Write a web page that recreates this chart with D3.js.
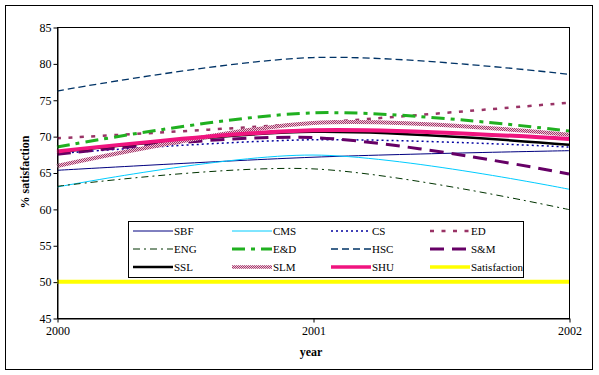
<!DOCTYPE html>
<html>
<head>
<meta charset="utf-8">
<script src="https://cdn.jsdelivr.net/npm/d3@7"></script>
<style>
  body { margin: 0; background: #fff; }
</style>
</head>
<body>
<div id="chart"></div>
<script>
var width = 599;
var height = 375;
var FONT = "'Liberation Serif', 'Times New Roman', serif";

// data
var years = [2000, 2001, 2002];
var names = ["SBF", "CMS", "CS", "ED", "ENG", "E&D", "HSC", "S&M", "SSL", "SLM", "SHU", "Satisfaction"];
var SBF = [65.3, 67.1, 68.0];
var CMS = [63.0, 67.4, 62.7];
var CS = [67.6, 69.5, 68.5];
var ED = [69.7, 71.8, 74.6];
var ENG = [63.1, 65.5, 59.9];
var ED2 = [68.5, 73.2, 70.7];
var HSC = [76.2, 80.8, 78.5];
var SM = [67.5, 69.8, 64.8];
var SSL = [67.8, 70.6, 68.8];
var SLM = [65.9, 71.8, 70.2];
var SHU = [67.9, 70.8, 69.6];
var Satisfaction = [50, 50, 50];
var yTicks = [45, 50, 55, 60, 65, 70, 75, 80, 85];

var values = [SBF, CMS, CS, ED, ENG, ED2, HSC, SM, SSL, SLM, SHU, Satisfaction];

// line styles per series
var styles = [
    {color: "#000080", w: 1, dash: null},
    {color: "#00ccff", w: 1, dash: null},
    {color: "#0000a0", w: 1.5, dash: "2,3"},
    {color: "#993366", w: 2.5, dash: "4,7.5"},
    {color: "#003300", w: 1, dash: "7,4,2,4"},
    {color: "#20b020", w: 3, dash: "13,6,4,6"},
    {color: "#003366", w: 1.3, dash: "7,4"},
    {color: "#660066", w: 3, dash: "14,8"},
    {color: "#000000", w: 2.5, dash: null},
    {color: "url(#checker)", w: 4, dash: null},
    {color: "#f0147f", w: 4, dash: null},
    {color: "#ffff00", w: 4, dash: null}
];

var svg = d3.select("#chart")
    .append("svg")
    .attr("width", width)
    .attr("height", height)

var defs = svg.append("defs")
var pat = defs.append("pattern")
    .attr("id", "checker")
    .attr("patternUnits", "userSpaceOnUse")
    .attr("width", 2)
    .attr("height", 2)
pat.append("rect").attr("width", 2).attr("height", 2).attr("fill", "#f0c4d8")
pat.append("rect").attr("width", 1).attr("height", 1).attr("fill", "#a03a6a")
pat.append("rect").attr("x", 1).attr("y", 1).attr("width", 1).attr("height", 1).attr("fill", "#a03a6a")

// outer frame
svg.append("rect")
    .attr("x", 5.5).attr("y", 5.5)
    .attr("width", 587).attr("height", 364)
    .attr("fill", "#fff")
    .attr("stroke", "#000")

var plot = {left: 57, top: 27, right: 569, bottom: 318};

var x = d3.scaleLinear().domain([2000, 2002]).range([plot.left, plot.right]);
var y = d3.scaleLinear().domain([45, 85]).range([plot.bottom, plot.top]);

// plot area
svg.append("rect")
    .attr("x", plot.left + 0.5).attr("y", plot.top + 0.5)
    .attr("width", plot.right - plot.left).attr("height", plot.bottom - plot.top)
    .attr("fill", "#fff")
    .attr("stroke", "#000")

var line = d3.line()
    .x(function(d, i) { return x(years[i]) })
    .y(function(d) { return y(d) })
    .curve(d3.curveCardinal.tension(0));

var g_lines = svg.append('g')
g_lines.selectAll("path").data(values)
    .enter().append("path")
    .attr("d", line)
    .attr("fill", "none")
    .attr("stroke", function(d, i) { return styles[i].color })
    .attr("stroke-width", function(d, i) { return styles[i].w })
    .attr("stroke-dasharray", function(d, i) { return styles[i].dash })

// axes
var yAxis = d3.axisLeft(y).tickValues(yTicks).tickSize(4).tickSizeOuter(0);
var xAxis = d3.axisBottom(x).tickValues(years).tickFormat(d3.format("d")).tickSize(4).tickSizeOuter(0);

var gy = svg.append("g")
    .attr("transform", "translate(" + (plot.left + 0.5) + ",0.5)")
    .call(yAxis)
var gx = svg.append("g")
    .attr("transform", "translate(0.5," + (plot.bottom + 0.5) + ")")
    .call(xAxis)

svg.selectAll(".domain").attr("stroke", "#000")
svg.selectAll(".tick line").attr("stroke", "#000")
svg.selectAll(".tick text")
    .style("font-family", FONT)
    .style("font-size", "12px")
    .attr("fill", "#000")
gy.selectAll(".tick text").attr("x", -6)
gx.selectAll(".tick text").attr("y", 8)

// axis titles
svg.append("text")
    .attr("x", 311).attr("y", 356)
    .attr("text-anchor", "middle")
    .style("font-family", FONT)
    .style("font-size", "12px")
    .style("font-weight", "bold")
    .text("year")
svg.append("text")
    .attr("transform", "translate(29,172) rotate(-90)")
    .attr("text-anchor", "middle")
    .style("font-family", FONT)
    .style("font-size", "12px")
    .style("font-weight", "bold")
    .text("% satisfaction")

// legend
var legend = svg.append("g")
legend.append("rect")
    .attr("x", 128.5).attr("y", 221.5)
    .attr("width", 395).attr("height", 56)
    .attr("fill", "#fff")
    .attr("stroke", "#000")

var items = legend.selectAll("g.item").data(names)
    .enter().append("g")
    .attr("class", "item")
    .attr("transform", function(d, i) {
        return "translate(" + (133 + (i % 4) * 99) + "," + (231 + Math.floor(i / 4) * 18) + ")"
    })
items.append("line")
    .attr("x1", 0).attr("x2", 40)
    .attr("y1", 0).attr("y2", 0)
    .attr("stroke", function(d, i) { return styles[i].color })
    .attr("stroke-width", function(d, i) { return Math.min(styles[i].w, 3.5) })
    .attr("stroke-dasharray", function(d, i) { return styles[i].dash })
items.append("text")
    .attr("x", 41).attr("y", 4)
    .style("font-family", FONT)
    .style("font-size", "11px")
    .text(function(d) { return d })
</script>
</body>
</html>
